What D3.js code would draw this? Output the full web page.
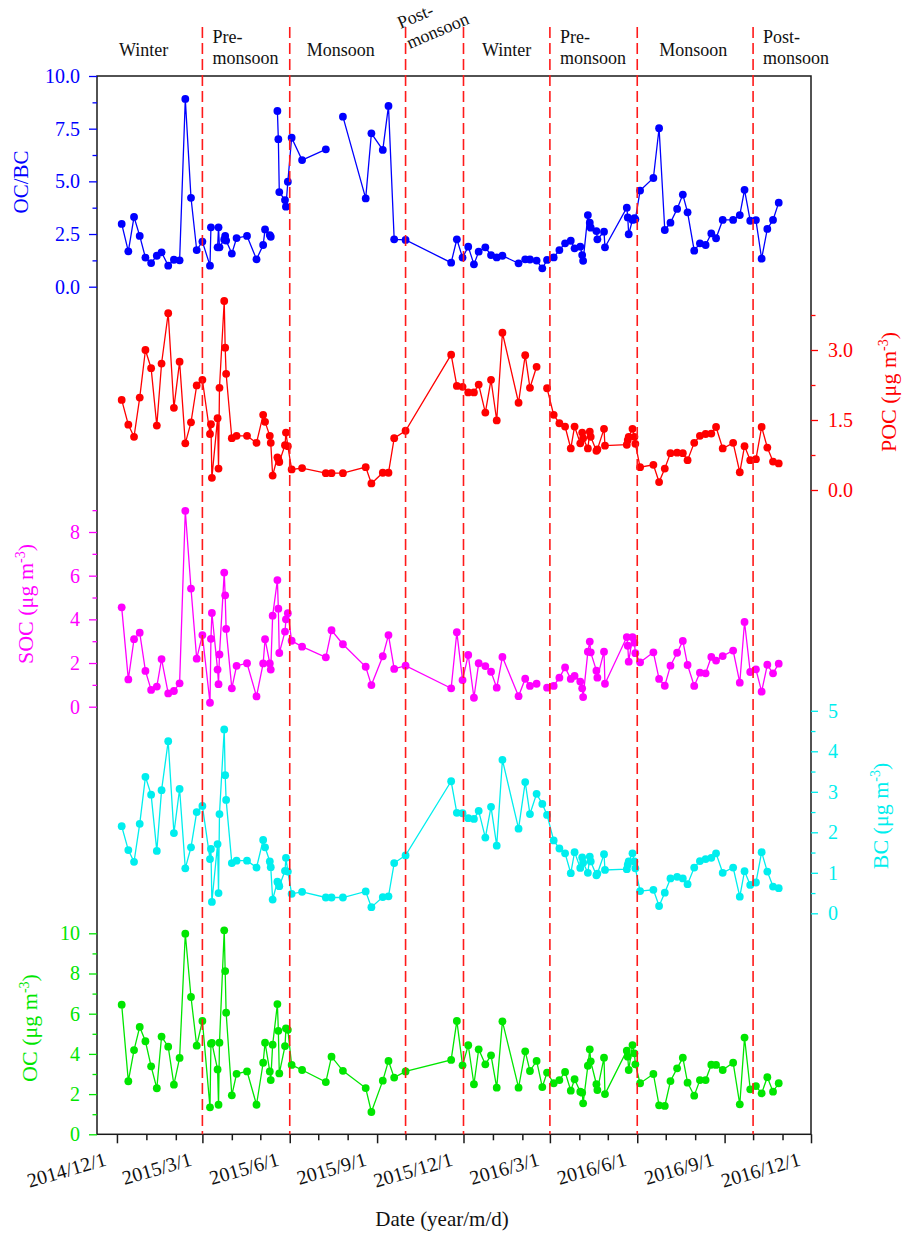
<!DOCTYPE html>
<html>
<head>
<meta charset="utf-8">
<script src="https://cdn.jsdelivr.net/npm/d3@7"></script>
<style>
  body { margin: 0; background: #fff; }
  svg text { font-family: "Liberation Serif", "Times New Roman", serif !important; }
</style>
</head>
<body>
<svg id="chart" width="904" height="1234"></svg>
<script>
// sample dates, shared by every series
const dates = [
  "2014-12-06","2014-12-13","2014-12-19","2014-12-25","2014-12-31","2015-01-06","2015-01-12","2015-01-17",
  "2015-01-24","2015-01-30","2015-02-05","2015-02-11","2015-02-17","2015-02-23","2015-03-01","2015-03-09",
  "2015-03-10","2015-03-11","2015-03-17","2015-03-18","2015-03-19","2015-03-24","2015-03-25","2015-03-26",
  "2015-04-01","2015-04-06","2015-04-17","2015-04-27","2015-05-04","2015-05-06","2015-05-11","2015-05-12",
  "2015-05-14","2015-05-19","2015-05-20","2015-05-21","2015-05-27","2015-05-28","2015-05-30","2015-06-03",
  "2015-06-14","2015-07-09","2015-07-15","2015-07-27","2015-08-20","2015-08-26","2015-09-07","2015-09-13",
  "2015-09-19","2015-10-01","2015-11-18","2015-11-24","2015-11-30","2015-12-06","2015-12-12","2015-12-17",
  "2015-12-24","2015-12-30","2016-01-05","2016-01-11","2016-01-28","2016-02-04","2016-02-09","2016-02-16",
  "2016-02-22","2016-02-27","2016-03-05","2016-03-11","2016-03-17","2016-03-23","2016-03-27","2016-04-02",
  "2016-04-04","2016-04-05","2016-04-10","2016-04-12","2016-04-13","2016-04-19","2016-04-20","2016-04-27",
  "2016-04-28","2016-05-21","2016-05-22","2016-05-23","2016-05-27","2016-05-29","2016-05-30","2016-06-04",
  "2016-06-18","2016-06-24","2016-06-30","2016-07-06","2016-07-13","2016-07-19","2016-07-24","2016-07-31",
  "2016-08-06","2016-08-12","2016-08-18","2016-08-23","2016-08-30","2016-09-10","2016-09-17","2016-09-22",
  "2016-09-28","2016-10-04","2016-10-10","2016-10-16","2016-10-22","2016-10-28"
];

// null = not plotted (line breaks there)
const ocbc = [
  2.98,1.68,3.31,2.41,1.38,1.12,1.47,1.63,1.00,1.28,1.25,8.91,4.22,1.74,2.14,
  1.00,2.82,null,1.87,2.82,1.87,2.24,2.41,2.19,1.57,2.31,2.41,1.30,1.98,2.72,
  2.45,2.37,null,8.34,7.00,4.49,4.11,3.80,4.98,7.07,6.01,6.52,null,8.07,4.19,
  7.28,6.49,8.58,2.25,2.22,1.14,2.25,
  1.38,1.90,1.06,1.66,1.87,1.50,1.39,1.47,1.11,1.30,1.29,1.24,0.87,1.27,1.39,1.74,2.06,2.18,1.82,
  1.90,1.50,1.23,3.40,3.04,2.80,2.64,2.25,2.61,1.87,3.75,3.29,2.49,3.17,3.25,3.20,
  4.56,5.16,7.52,2.69,3.04,3.69,4.37,3.53,1.71,2.06,1.98,2.53,2.30,3.17,3.17,3.40,4.60,3.13,3.16,1.33,2.74,3.17,3.99
];

const poc = [
  1.93,1.40,1.14,1.98,3.00,2.61,1.38,2.71,3.79,1.76,2.75,1.00,1.45,2.24,2.36,
  1.20,1.41,0.26,1.54,0.46,2.19,4.05,3.05,2.49,1.11,1.16,1.16,1.01,1.61,1.46,
  1.16,1.01,0.31,0.70,0.66,0.60,0.96,1.23,0.94,0.44,0.47,0.36,0.36,0.36,0.49,
  0.14,0.37,0.37,1.11,1.27,2.90,2.23,
  2.21,2.09,2.09,2.26,1.66,2.36,1.49,3.37,1.87,2.89,2.19,2.64,null,2.18,1.61,1.43,1.36,0.89,1.36,
  1.00,1.23,1.11,0.89,1.25,1.14,0.84,0.87,1.31,0.95,0.97,1.07,1.14,1.31,1.14,0.99,
  0.49,0.54,0.17,0.46,0.79,0.80,0.79,0.64,1.01,1.16,1.20,1.21,1.35,0.89,1.01,0.38,0.94,0.64,0.66,1.35,0.91,0.61,0.57
];

const soc = [
  4.55,1.25,3.09,3.39,1.64,0.77,0.92,2.18,0.61,0.72,1.07,8.97,5.41,2.20,3.28,
  0.18,3.11,4.29,1.70,1.03,2.39,6.14,5.10,3.56,0.84,1.87,1.99,0.47,1.98,3.09,
  1.98,1.70,4.17,5.80,4.49,2.46,3.44,4.00,4.28,3.02,2.75,2.26,3.50,2.86,1.83,
  0.99,2.31,3.28,1.73,1.88,0.84,3.41,
  1.22,2.37,0.41,1.99,1.86,1.60,0.87,2.28,0.48,1.28,0.95,1.05,null,0.87,0.95,1.33,1.80,1.27,1.41,
  1.15,0.84,0.44,2.52,2.98,2.49,1.65,1.33,2.52,1.05,3.19,2.79,2.06,3.18,2.93,2.45,
  2.03,2.49,1.27,0.96,1.88,2.47,3.01,1.91,0.95,1.56,1.53,2.28,2.11,2.32,2.57,1.10,3.88,1.59,1.71,0.69,1.92,1.53,1.97
];

const bc = [
  2.15,1.56,1.27,2.21,3.37,2.93,1.54,3.04,4.25,1.98,3.07,1.11,1.63,2.50,2.65,
  1.34,1.59,0.28,1.71,0.50,2.45,4.54,3.41,2.80,1.24,1.30,1.30,1.13,1.81,1.63,
  1.28,1.14,0.34,0.78,0.74,0.67,1.05,1.37,1.03,0.48,0.53,0.39,0.39,0.39,0.54,
  0.15,0.40,0.42,1.24,1.43,3.26,2.48,
  2.47,2.35,2.33,2.53,1.87,2.63,1.67,3.79,2.09,3.24,2.45,2.95,2.70,2.43,1.80,1.60,1.48,0.99,1.51,
  1.12,1.38,1.25,1.00,1.40,1.28,0.94,0.98,1.46,1.07,1.09,1.20,1.28,1.48,1.28,1.11,
  0.55,0.58,0.18,0.51,0.86,0.90,0.86,0.72,1.13,1.29,1.34,1.37,1.48,1.00,1.13,0.41,1.04,0.70,0.76,1.51,1.03,0.66,0.62
];

const oc = [
  6.45,2.64,4.19,5.34,4.63,3.38,2.29,4.86,4.36,2.47,3.80,9.98,6.83,4.41,5.64,
  1.34,4.51,4.55,3.23,1.47,4.56,10.15,8.12,6.05,1.94,3.01,3.13,1.47,3.56,4.56,
  3.13,2.70,4.46,6.48,5.15,3.03,4.39,5.27,5.20,3.45,3.20,2.60,3.86,3.16,2.30,
  1.11,2.67,3.65,2.82,3.13,3.70,5.64,
  3.43,4.43,2.49,4.23,3.48,3.93,2.32,5.62,2.32,4.13,3.15,3.65,2.35,3.07,2.54,2.70,3.10,2.17,2.74,
  2.12,2.07,1.54,3.41,4.23,3.63,2.49,2.20,3.81,2.00,4.16,3.86,3.20,4.44,4.03,3.48,
  2.54,3.00,1.44,1.41,2.65,3.28,3.81,2.57,1.92,2.70,2.70,3.46,3.45,3.20,3.56,1.49,4.81,2.24,2.40,2.04,2.84,2.12,2.54
];

const seasonNames = [["Winter"], ["Pre-", "monsoon"], ["Monsoon"], ["Post-", "monsoon"],
                     ["Winter"], ["Pre-", "monsoon"], ["Monsoon"], ["Post-", "monsoon"]];
const seasonBreaks = ["2015-03-01", "2015-06-01", "2015-10-01", "2015-12-01", "2016-03-01", "2016-06-01", "2016-10-01"];

const xTickDates = ["2014-12-01", "2015-03-01", "2015-06-01", "2015-09-01", "2015-12-01",
                    "2016-03-01", "2016-06-01", "2016-09-01", "2016-12-01"];
const xTickLabels = ["2014/12/1", "2015/3/1", "2015/6/1", "2015/9/1", "2015/12/1",
                     "2016/3/1", "2016/6/1", "2016/9/1", "2016/12/1"];

const ocbcTicks = [0, 2.5, 5, 7.5, 10];
const ocbcMinor = [1.25, 3.75, 6.25, 8.75];
const pocTicks = [0, 1.5, 3];
const pocMinor = [0.75, 2.25, 3.75];
const socTicks = [0, 2, 4, 6, 8];
const socMinor = [1, 3, 5, 7, 9];
const bcTicks = [0, 1, 2, 3, 4, 5];
const bcMinor = [0.5, 1.5, 2.5, 3.5, 4.5];
const ocTicks = [0, 2, 4, 6, 8, 10];
const ocMinor = [1, 3, 5, 7, 9];

// ---- drawing ----
const parse = d3.timeParse("%Y-%m-%d");
const svg = d3.select("#chart");
const serif = '"Liberation Serif", "Times New Roman", serif';
const plotL = 97, plotR = 811, plotT = 76, plotB = 1134.3;

const x = d3.scaleTime()
  .domain([parse("2014-11-10"), parse("2016-12-01")])
  .range([plotL, plotR]);

const panels = [
  { name: "OC/BC", values: ocbc, color: "#0000ff", side: "left",
    y: d3.scaleLinear().domain([0, 10]).range([286.7, 76]),
    major: ocbcTicks, minor: ocbcMinor, fmt: d3.format(".1f"), title: [28, 182], unit: false },
  { name: "POC", values: poc, color: "#ff0000", side: "right",
    y: d3.scaleLinear().domain([0, 3.75]).range([490, 315]),
    major: pocTicks, minor: pocMinor, fmt: d3.format(".1f"), title: [896, 392], unit: true },
  { name: "SOC", values: soc, color: "#ff00ff", side: "left",
    y: d3.scaleLinear().domain([0, 8]).range([706.7, 532]),
    major: socTicks, minor: socMinor, fmt: d3.format("d"), title: [33, 604], unit: true },
  { name: "BC", values: bc, color: "#00eeee", side: "right",
    y: d3.scaleLinear().domain([0, 5]).range([913.3, 710.8]),
    major: bcTicks, minor: bcMinor, fmt: d3.format("d"), title: [888, 816], unit: true },
  { name: "OC", values: oc, color: "#00e600", side: "left",
    y: d3.scaleLinear().domain([0, 10]).range([1134.3, 933.3]),
    major: ocTicks, minor: ocMinor, fmt: d3.format("d"), title: [37, 1028], unit: true }
];

// frame
svg.append("rect")
  .attr("x", plotL).attr("y", plotT)
  .attr("width", plotR - plotL).attr("height", plotB - plotT)
  .attr("fill", "none").attr("stroke", "#1a1a1a").attr("stroke-width", 1.5);

panels.forEach(p => {
  const isLeft = p.side === "left";
  const g = svg.append("g").attr("transform", `translate(${isLeft ? plotL : plotR},0)`);
  const mk = s => (isLeft ? d3.axisLeft(s) : d3.axisRight(s));

  g.append("g").call(mk(p.y).tickValues(p.major).tickFormat(p.fmt)
      .tickSize(isLeft ? 8 : 7).tickPadding(isLeft ? 9 : 10))
    .call(a => a.select(".domain").remove())
    .call(a => a.selectAll(".tick line").attr("stroke", p.color).attr("stroke-width", 1.3))
    .call(a => a.selectAll(".tick text").attr("fill", p.color)
      .style("font-family", serif).style("font-size", "20px"));

  g.append("g").call(mk(p.y).tickValues(p.minor).tickFormat("").tickSize(4.5))
    .call(a => a.select(".domain").remove())
    .call(a => a.selectAll(".tick line").attr("stroke", p.color).attr("stroke-width", 1.3));

  // axis title
  const t = svg.append("text")
    .attr("transform", `translate(${p.title[0]},${p.title[1]}) rotate(-90)`)
    .attr("text-anchor", "middle")
    .attr("fill", p.color)
    .attr("font-size", p.unit ? 22 : 21);
  if (p.unit) {
    t.append("tspan").text(p.name + " (μg m");
    t.append("tspan").attr("dy", -8).attr("font-size", 14).text("-3");
    t.append("tspan").attr("dy", 8).text(")");
  } else {
    t.text(p.name);
  }

  // series
  const pts = dates.map((d, i) => ({ date: parse(d), v: p.values[i] }));
  const line = d3.line()
    .defined(d => d.v != null)
    .x(d => x(d.date))
    .y(d => p.y(d.v));

  svg.append("path")
    .datum(pts)
    .attr("d", line)
    .attr("fill", "none")
    .attr("stroke", p.color)
    .attr("stroke-width", 1.3);

  svg.append("g").selectAll("circle")
    .data(pts.filter(d => d.v != null))
    .join("circle")
    .attr("cx", d => x(d.date))
    .attr("cy", d => p.y(d.v))
    .attr("r", 3.9)
    .attr("fill", p.color);
});

// x axis
const xMajor = xTickDates.map(parse);
const xMinor = d3.timeMonth.range(parse("2014-12-01"), parse("2016-12-01"))
  .filter(d => d.getMonth() % 3 !== 2);

const xg = svg.append("g").attr("transform", `translate(0,${plotB})`);
xg.append("g")
  .call(d3.axisBottom(x).tickValues(xMajor).tickFormat((d, i) => xTickLabels[i]).tickSize(9))
  .call(a => a.select(".domain").remove())
  .call(a => a.selectAll(".tick line").attr("stroke", "#1a1a1a").attr("stroke-width", 1.5))
  .call(a => a.selectAll(".tick text")
    .attr("fill", "#111")
    .style("font-family", serif)
    .style("font-size", "20px")
    .attr("text-anchor", "end")
    .attr("x", 0).attr("y", 0).attr("dy", 0)
    .attr("transform", "translate(-10,31) rotate(-16)"));
xg.append("g")
  .call(d3.axisBottom(x).tickValues(xMinor).tickFormat("").tickSize(6))
  .call(a => a.select(".domain").remove())
  .call(a => a.selectAll(".tick line").attr("stroke", "#1a1a1a").attr("stroke-width", 1.5));

svg.append("text")
  .attr("x", 442).attr("y", 1226)
  .attr("text-anchor", "middle")
  .attr("font-size", 21)
  .attr("fill", "#111")
  .text("Date (year/m/d)");

// season dividers (drawn over the data, like the original)
const breakX = seasonBreaks.map(d => x(parse(d)));
svg.append("g").selectAll("line")
  .data(breakX)
  .join("line")
  .attr("x1", d => d).attr("x2", d => d)
  .attr("y1", 27).attr("y2", plotB)
  .attr("stroke", "#ff1a1a")
  .attr("stroke-width", 1.6)
  .attr("stroke-dasharray", "11,5");

// season labels
const edges = [plotL, ...breakX, plotR + 40];
const nudge = [-6, 0, -7, 0, 0, 0, -2, 0];
seasonNames.forEach((lines, i) => {
  const x0 = edges[i], x1 = edges[i + 1];
  const lab = svg.append("g").attr("font-size", 18).attr("fill", "#111");
  if (lines.length === 1) {
    lab.append("text")
      .attr("x", (x0 + x1) / 2 + nudge[i]).attr("y", 56)
      .attr("text-anchor", "middle")
      .text(lines[0]);
  } else if (x1 - x0 < 70) {
    // too narrow: tilt the two lines
    lab.attr("transform", `translate(${x0 - 5},29) rotate(-23)`);
    lines.forEach((s, k) => lab.append("text").attr("x", k * 0.5).attr("y", k * 22).text(s));
  } else {
    lines.forEach((s, k) => lab.append("text")
      .attr("x", x0 + 10).attr("y", 42.7 + k * 21.3).text(s));
  }
});
</script>
</body>
</html>
